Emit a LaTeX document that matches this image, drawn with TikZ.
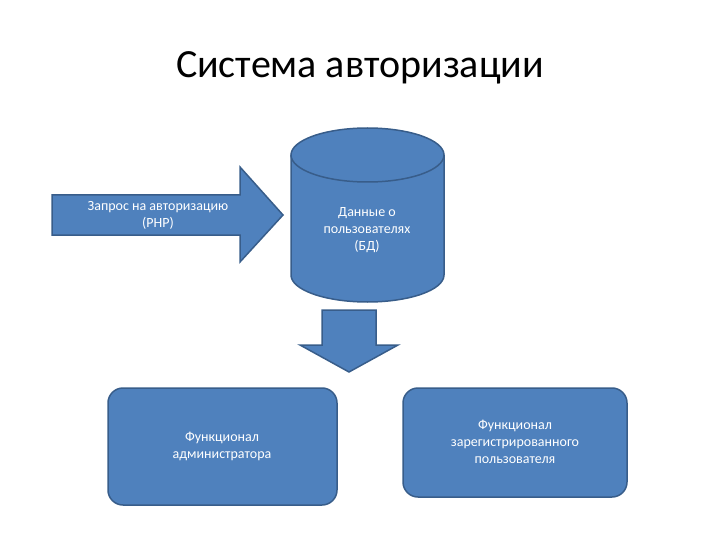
\documentclass[tikz,border=0pt]{standalone}
\usepackage{fontspec}
\setmainfont{Carlito}
\usetikzlibrary{shapes.geometric}
\definecolor{fillb}{HTML}{4F81BD}
\definecolor{edgeb}{HTML}{385D8A}
\tikzset{shp/.style={fill=fillb,draw=edgeb,line width=1.5pt},
 lbl/.style={text=white,font=\fontsize{14}{17}\selectfont,align=center}}
\begin{document}
\begin{tikzpicture}[x=1pt,y=-1pt]
\useasboundingbox (0,0) rectangle (720,540);
\node[font=\fontsize{40}{44}\selectfont] (title) at (360,68) {Система авторизации};
\draw[shp] (52,195) -- (240,195) -- (240,167) -- (283,215) -- (240,262) -- (240,235) -- (52,235) -- cycle;
\node[lbl] (req) at (158,215) {Запрос на авторизацию\\(PHP)};
\draw[shp] (291,155) -- (291,275) arc[start angle=180,end angle=360,x radius=76.5,y radius=-27] -- (444,155);
\draw[shp] (367.5,155) ellipse[x radius=76.5,y radius=27];
\node[lbl] (db) at (367,230) {Данные о\\пользователях\\(БД)};
\draw[shp] (322,310) -- (376,310) -- (376,345) -- (398,345) -- (349,372) -- (300,345) -- (322,345) -- cycle;
\draw[shp,rounded corners=15] (108,388) rectangle (337,505);
\node[lbl] (adm) at (222,446) {Функционал\\администратора};
\draw[shp,rounded corners=15] (403,388) rectangle (627,497);
\node[lbl] (usr) at (515,442) {Функционал\\зарегистрированного\\пользователя};
\end{tikzpicture}
\end{document}
